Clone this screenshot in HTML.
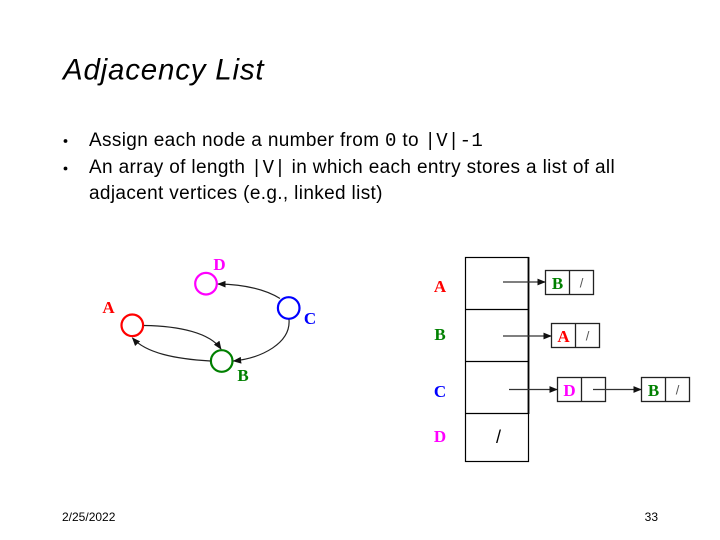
<!DOCTYPE html>
<html><head><meta charset="utf-8"><style>
html,body{margin:0;padding:0;background:#fff;}
svg{display:block;}
</style></head><body>
<svg width="720" height="540" viewBox="0 0 720 540" xmlns="http://www.w3.org/2000/svg">
<defs>
<marker id="ah" viewBox="0 0 10 10" refX="9" refY="5" markerWidth="8.5" markerHeight="8.5" orient="auto" markerUnits="userSpaceOnUse">
<path d="M0,1 L10,5 L0,9 z" fill="#111"/>
</marker>
</defs>
<rect width="720" height="540" fill="#fff"/>
<text x="63" y="79.5" font-family="Liberation Sans, Arial, sans-serif" font-style="italic" font-size="29.5" letter-spacing="0.8" fill="#000">Adjacency List</text>

<g font-family="Liberation Sans, Arial, sans-serif" font-size="19" letter-spacing="0.35" fill="#000">
<circle cx="65.5" cy="141" r="1.9" fill="#000"/>
<circle cx="65.5" cy="168.5" r="1.9" fill="#000"/>
<text x="89" y="146">Assign each node a number from <tspan font-family="Liberation Mono, DejaVu Sans Mono, monospace" font-size="19" letter-spacing="0.3">0</tspan> to <tspan font-family="Liberation Mono, DejaVu Sans Mono, monospace" font-size="19" letter-spacing="0.3">|V|-1</tspan></text>
<text x="89" y="173">An array of length <tspan font-family="Liberation Mono, DejaVu Sans Mono, monospace" font-size="19" letter-spacing="0.3">|V|</tspan> in which each entry stores a list of all</text>
<text x="89" y="199">adjacent vertices (e.g., linked list)</text>
</g>

<!-- graph -->
<g fill="none" stroke-width="2.2">
<circle cx="206" cy="283.7" r="10.8" stroke="#ff00ff"/>
<circle cx="288.7" cy="308" r="10.8" stroke="#0000ff"/>
<circle cx="132.3" cy="325.3" r="10.8" stroke="#ff0000"/>
<circle cx="221.7" cy="361" r="10.8" stroke="#008000"/>
</g>
<g fill="none" stroke="#222" stroke-width="1.2">
<path d="M144,325.5 C180,326 210,333 221,349" marker-end="url(#ah)"/>
<path d="M210.5,361 C175,359 146,353 132.5,338" marker-end="url(#ah)"/>
<path d="M280,298.5 C265,289 243,284.5 218,284" marker-end="url(#ah)"/>
<path d="M289,319.5 C291,343 262,358 233.5,361" marker-end="url(#ah)"/>
</g>
<g font-family="Liberation Serif, Times New Roman, serif" font-weight="bold" font-size="17">
<text x="219.5" y="270" text-anchor="middle" fill="#ff00ff">D</text>
<text x="108.5" y="313" text-anchor="middle" fill="#ff0000">A</text>
<text x="310" y="324" text-anchor="middle" fill="#0000ff">C</text>
<text x="243" y="381" text-anchor="middle" fill="#008000">B</text>
</g>

<!-- array -->
<g fill="none" stroke="#000" stroke-width="1.2">
<rect x="465.5" y="257.5" width="63" height="204"/>
<line x1="465.5" y1="309.5" x2="528.5" y2="309.5"/>
<line x1="465.5" y1="361.5" x2="528.5" y2="361.5"/>
<line x1="465.5" y1="413.5" x2="528.5" y2="413.5"/>
</g>
<line x1="528.5" y1="257" x2="528.5" y2="414" stroke="#000" stroke-width="1.8"/>
<g font-family="Liberation Serif, Times New Roman, serif" font-weight="bold" font-size="17">
<text x="440" y="292" text-anchor="middle" fill="#ff0000">A</text>
<text x="440" y="340" text-anchor="middle" fill="#008000">B</text>
<text x="440" y="397" text-anchor="middle" fill="#0000ff">C</text>
<text x="440" y="442" text-anchor="middle" fill="#ff00ff">D</text>
</g>
<text x="498.5" y="443" text-anchor="middle" font-family="Liberation Sans, Arial, sans-serif" font-size="18" fill="#000">/</text>

<!-- list nodes -->
<g fill="none" stroke="#222" stroke-width="1.3">
<rect x="545.5" y="270.5" width="48" height="24"/>
<line x1="569.5" y1="270.5" x2="569.5" y2="294.5"/>
<rect x="551.5" y="323.5" width="48" height="24"/>
<line x1="575.5" y1="323.5" x2="575.5" y2="347.5"/>
<rect x="557.5" y="377.5" width="48" height="24"/>
<line x1="581.5" y1="377.5" x2="581.5" y2="401.5"/>
<rect x="641.5" y="377.5" width="48" height="24"/>
<line x1="665.5" y1="377.5" x2="665.5" y2="401.5"/>
</g>
<g fill="none" stroke="#333" stroke-width="1.2">
<line x1="503" y1="282" x2="545" y2="282" marker-end="url(#ah)"/>
<line x1="503" y1="336" x2="551" y2="336" marker-end="url(#ah)"/>
<line x1="509" y1="389.5" x2="557" y2="389.5" marker-end="url(#ah)"/>
<line x1="593" y1="389.5" x2="641" y2="389.5" marker-end="url(#ah)"/>
</g>
<g font-family="Liberation Serif, Times New Roman, serif" font-weight="bold" font-size="17" text-anchor="middle">
<text x="557.5" y="289" fill="#008000">B</text>
<text x="563.5" y="342" fill="#ff0000">A</text>
<text x="569.5" y="396" fill="#ff00ff">D</text>
<text x="653.5" y="396" fill="#008000">B</text>
</g>
<g font-family="Liberation Sans, Arial, sans-serif" font-size="13" fill="#555" text-anchor="middle">
<text x="581.5" y="287.5">/</text>
<text x="587.5" y="340.5">/</text>
<text x="677.5" y="394.5">/</text>
</g>

<g font-family="Liberation Sans, Arial, sans-serif" font-size="12" fill="#000">
<text x="62" y="521">2/25/2022</text>
<text x="658" y="521" text-anchor="end">33</text>
</g>
</svg>
</body></html>
